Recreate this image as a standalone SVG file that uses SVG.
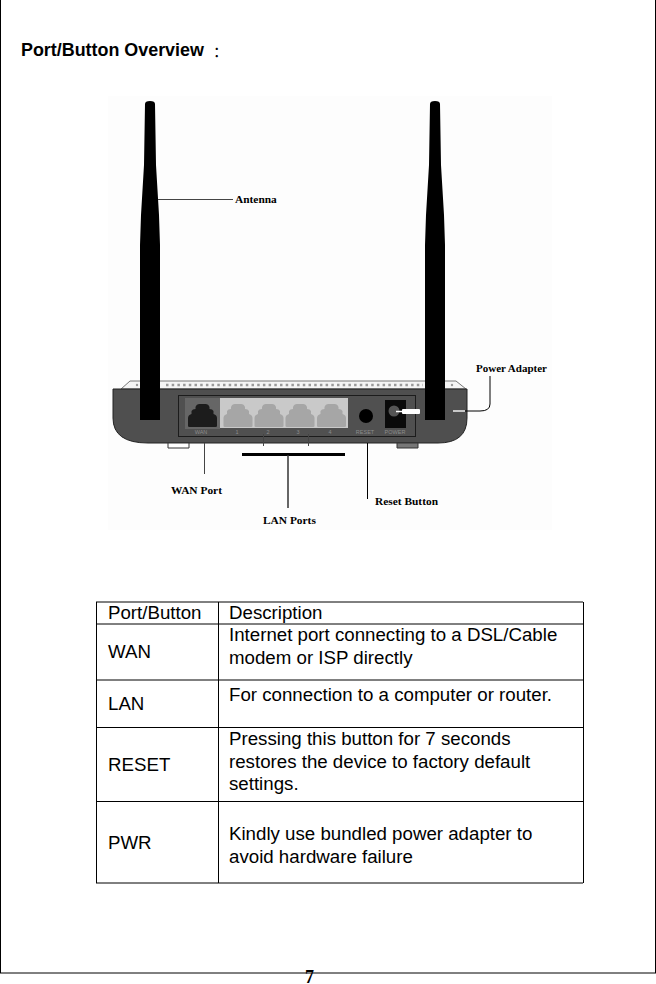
<svg xmlns="http://www.w3.org/2000/svg" width="656" height="984" viewBox="0 0 656 984">
<style>
.t{font-family:"Liberation Sans",Arial,sans-serif;font-size:18.7px;fill:#000}
.c{font-family:"Liberation Serif","Times New Roman",serif;font-weight:bold;font-size:11.4px;fill:#000}
.s{font-family:"Liberation Sans",Arial,sans-serif;font-size:5.5px;fill:#8c8c8c;text-anchor:middle}
.l{stroke:#000;stroke-width:1;fill:none}
.n{stroke:#444;stroke-width:1;fill:none}
.port{fill:#a6a6a6}
</style>
<defs>
<path id="jack" d="M-14.500 12V4Q-14.500 1 -11 0V-3Q-10 -5 -7 -5V-7Q-6 -10 -3 -10H3Q6 -10 7 -7V-5Q10 -5 11 -3V0Q14.500 1 14.500 4V12Q14.500 13 13 13H-13Q-14.500 13 -14.500 12Z"/>
</defs>
<rect x="0.5" y="-2" width="655" height="975" fill="#fff" stroke="#000"/>
<text x="21" y="56" font-family="Liberation Sans,Arial,sans-serif" font-weight="bold" font-size="17.900">Port/Button Overview<tspan dx="9" dy="1" font-weight="normal" font-size="15" font-family="Noto Sans CJK SC,sans-serif">：</tspan></text>
<rect x="108" y="96" width="444" height="434" fill="#fdfdfd"/>
<g id="router">
<path d="M121 389L130 381H456L466 389Z" fill="#f4f4f4" stroke="#777" stroke-width="1"/>
<g fill="#999"><circle cx="137" cy="385" r="1.200"/><circle cx="452" cy="385" r="1.200"/></g>
<path d="M166 385H423" stroke="#999" stroke-width="2.500" stroke-dasharray="2.500 3.200"/>
<path d="M113 389H467V418Q467 443 438 443H148Q113 443 113 418Z" fill="#4f4f4f" stroke="#222"/>
<path d="M168 443V448H189V443Z" fill="#fff" stroke="#333"/>
<path d="M397 443V448H418V443Z" fill="#777" stroke="#333"/>
<rect x="178.500" y="395.500" width="237" height="41" fill="#505050" stroke="#1c1c1c"/>
<rect x="185" y="398" width="35" height="31" fill="#666"/>
<rect x="220" y="398" width="128" height="30" fill="#c9c9c9"/>
<use href="#jack" x="202.500" y="414" fill="#1c1c1c"/>
<use href="#jack" x="238" y="414" class="port"/>
<use href="#jack" x="269" y="414" class="port"/>
<use href="#jack" x="300" y="414" class="port"/>
<use href="#jack" x="331.500" y="414" class="port"/>
<circle cx="366" cy="416" r="7" fill="#000"/>
<rect x="385" y="400" width="21" height="28" fill="#0a0a0a"/>
<circle cx="394" cy="411" r="5.500" fill="#555"/>
<rect x="402" y="409" width="18" height="5" rx="1" fill="#fff"/>
<path d="M396 411.500H403" stroke="#fff" stroke-width="1.500"/>
<text class="s" x="201" y="434">WAN</text>
<text class="s" x="237" y="434">1</text>
<text class="s" x="268" y="434">2</text>
<text class="s" x="298" y="434">3</text>
<text class="s" x="330" y="434">4</text>
<text class="s" x="365" y="434">RESET</text>
<text class="s" x="395" y="434">POWER</text>
</g>
<g id="antenna-left">
<path d="M145 104Q145 101 150 101Q155 101 155 104L156 165L159 215L160 245V420H140V245L141 215L144 165Z" fill="#000"/>
</g>
<g id="antenna-right">
<path d="M430 104Q430 101 435 101Q440 101 440 104L441 165L444 215L445 245V420H425V245L426 215L429 165Z" fill="#000"/>
</g>
<g id="connectors">
<path class="n" d="M158 199.500H233"/>
<path class="n" d="M204.500 443V474"/>
<path class="n" d="M263.500 434V446M308.500 434V446"/>
<path d="M242 454.500H345" stroke="#000" stroke-width="3"/>
<path d="M288 455V508" stroke="#333" stroke-width="1.500"/>
<path class="l" d="M367.500 443V499"/>
<path d="M453 411H480Q490 411 490 404V376" fill="none" stroke="#000" stroke-width="1"/>
<path d="M453 411H480" stroke="#fff" stroke-width="1.500" stroke-dasharray="12 30"/>
</g>
<g id="labels">
<text class="c" x="235" y="203">Antenna</text>
<text class="c" x="476" y="372" style="font-size:11px">Power Adapter</text>
<text class="c" x="171" y="494">WAN Port</text>
<text class="c" x="375" y="505">Reset Button</text>
<text class="c" x="263" y="524">LAN Ports</text>
</g>
<g id="table">
<path class="l" d="M96 602H583M96 624H583M96 680H583M96 727.500H583M96 801.500H583M96 883H583M96.500 602V883M218.500 602V883M583.500 602V883"/>
<text class="t" x="108" y="619">Port/Button</text>
<text class="t" x="229" y="619">Description</text>
<text class="t" x="108" y="658">WAN</text>
<text class="t" x="229" y="641">Internet port connecting to a DSL/Cable</text>
<text class="t" x="229" y="664">modem or ISP directly</text>
<text class="t" x="108" y="710">LAN</text>
<text class="t" x="229" y="701">For connection to a computer or router.</text>
<text class="t" x="108" y="771">RESET</text>
<text class="t" x="229" y="745">Pressing this button for 7 seconds</text>
<text class="t" x="229" y="768">restores the device to factory default</text>
<text class="t" x="229" y="790">settings.</text>
<text class="t" x="108" y="849">PWR</text>
<text class="t" x="229" y="840">Kindly use bundled power adapter to</text>
<text class="t" x="229" y="863">avoid hardware failure</text>
</g>
<text x="305" y="982.500" font-family="Liberation Serif,serif" font-weight="bold" font-size="18">7</text>
</svg>
